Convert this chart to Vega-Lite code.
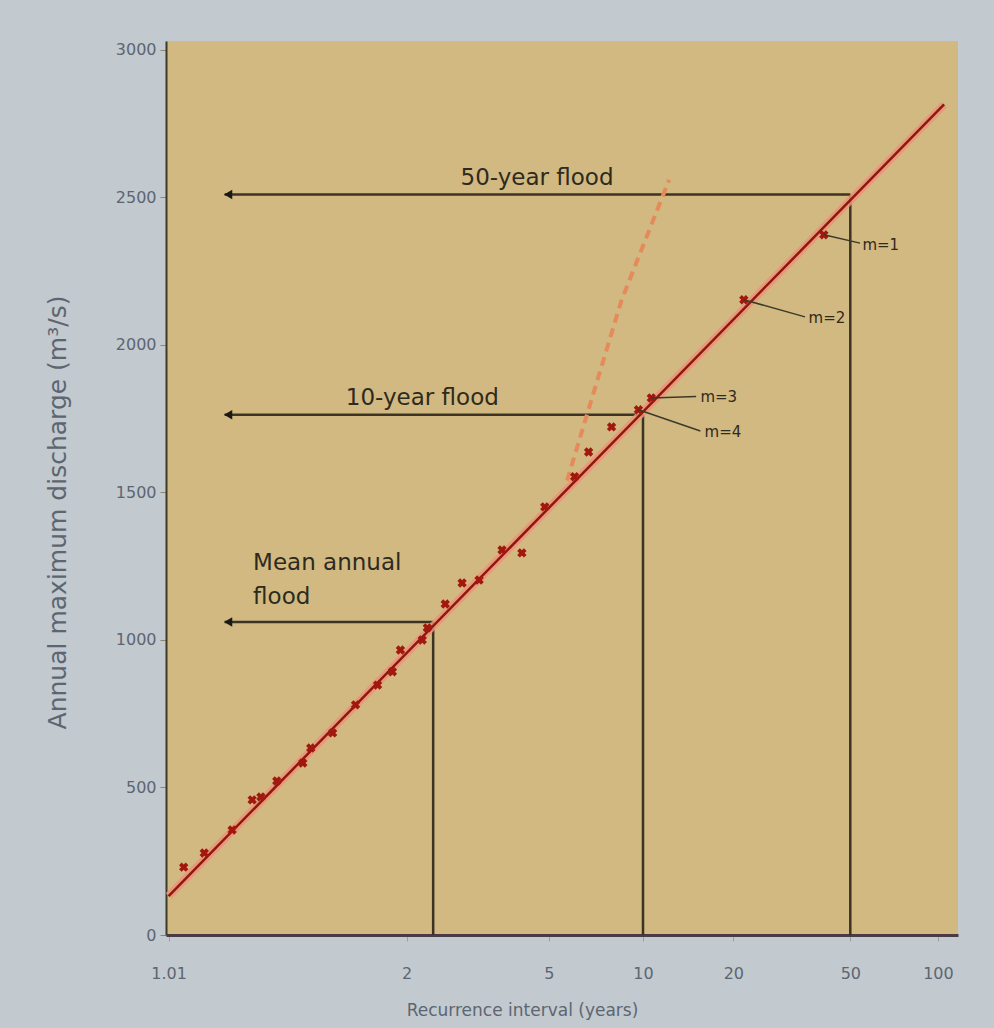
{
  "$schema": "https://vega.github.io/schema/vega-lite/v6.json",
  "width": 792,
  "height": 894,
  "autosize": {"type": "none"},
  "padding": {"left": 166, "top": 41, "right": 36, "bottom": 93},
  "background": "#c2c9cf",
  "config": {
    "view": {"fill": "#d1b981", "stroke": null},
    "font": "DejaVu Sans"
  },
  "datasets": {
    "floods": [
      {"T": 1.017, "Q": 230}, {"T": 1.032, "Q": 278}, {"T": 1.066, "Q": 356},
      {"T": 1.103, "Q": 458}, {"T": 1.123, "Q": 468}, {"T": 1.166, "Q": 522},
      {"T": 1.258, "Q": 583}, {"T": 1.292, "Q": 634}, {"T": 1.402, "Q": 685},
      {"T": 1.546, "Q": 780}, {"T": 1.717, "Q": 847}, {"T": 1.853, "Q": 892},
      {"T": 1.934, "Q": 966}, {"T": 2.186, "Q": 1000}, {"T": 2.251, "Q": 1041},
      {"T": 2.506, "Q": 1122}, {"T": 2.783, "Q": 1193}, {"T": 3.104, "Q": 1203},
      {"T": 3.614, "Q": 1305}, {"T": 4.139, "Q": 1295}, {"T": 4.859, "Q": 1451},
      {"T": 6.02, "Q": 1553}, {"T": 6.667, "Q": 1637}, {"T": 7.9, "Q": 1722},
      {"T": 9.66, "Q": 1780}, {"T": 10.65, "Q": 1820}, {"T": 21.7, "Q": 2153},
      {"T": 40.6, "Q": 2373}
    ],
    "fit": [{"T": 1.01, "Q": 132}, {"T": 105, "Q": 2815}],
    "dashed": [{"T": 5.7, "Q": 1540}, {"T": 8.5, "Q": 2150}, {"T": 12.2, "Q": 2560}],
    "guides": [
      {"T": 1.055, "T2": 50, "Q": 2510, "Q2": 2510},
      {"T": 50, "T2": 50, "Q": 0, "Q2": 2510},
      {"T": 1.055, "T2": 10, "Q": 1763, "Q2": 1763},
      {"T": 10, "T2": 10, "Q": 0, "Q2": 1763},
      {"T": 1.055, "T2": 2.33, "Q": 1061, "Q2": 1061},
      {"T": 2.33, "T2": 2.33, "Q": 0, "Q2": 1061}
    ],
    "arrows": [{"T": 1.06, "Q": 2510}, {"T": 1.06, "Q": 1763}, {"T": 1.06, "Q": 1061}],
    "leaders": [
      {"T": 40.6, "T2": 54, "Q": 2373, "Q2": 2345},
      {"T": 21.7, "T2": 35, "Q": 2153, "Q2": 2095},
      {"T": 10.65, "T2": 15, "Q": 1820, "Q2": 1825},
      {"T": 9.66, "T2": 15.5, "Q": 1780, "Q2": 1708}
    ],
    "labelsCenter": [
      {"label": "50-year flood", "T": 4.6, "Q": 2566},
      {"label": "10-year flood", "T": 2.186, "Q": 1820}
    ],
    "labelsLeft": [
      {"label": "Mean annual", "T": 1.105, "Q": 1261},
      {"label": "flood", "T": 1.105, "Q": 1146}
    ],
    "rankLabels": [
      {"label": "m=1", "T": 55, "Q": 2340},
      {"label": "m=2", "T": 36, "Q": 2090},
      {"label": "m=3", "T": 15.5, "Q": 1825},
      {"label": "m=4", "T": 16, "Q": 1705}
    ]
  },
  "encoding": {
    "x": {
      "field": "g",
      "type": "quantitative",
      "scale": {"domain": [-1.55, 4.76], "nice": false, "zero": false},
      "title": "Recurrence interval (years)",
      "axis": {
        "values": [-1.52936, 0.36651, 1.49994, 2.25037, 2.9702, 3.90194, 4.60015],
        "labelExpr": "datum.value < -1 ? '1.01' : datum.value < 1 ? '2' : datum.value < 2 ? '5' : datum.value < 2.6 ? '10' : datum.value < 3.5 ? '20' : datum.value < 4.2 ? '50' : '100'",
        "labelFontSize": 16,
        "labelColor": "#5d6670",
        "labelPadding": 24,
        "labelFlush": false,
        "tickSize": 6,
        "tickColor": "#9aa0a8",
        "domainColor": "#4a3b46",
        "domainWidth": 3,
        "grid": false,
        "titleFontSize": 17,
        "titleFontWeight": "normal",
        "titleColor": "#5d6670",
        "titleX": 356,
        "titleY": 75,
        "titleBaseline": "middle"
      }
    },
    "y": {
      "field": "Q",
      "type": "quantitative",
      "scale": {"domain": [0, 3030], "nice": false},
      "title": "Annual maximum discharge (m³/s)",
      "axis": {
        "values": [0, 500, 1000, 1500, 2000, 2500, 3000],
        "format": "d",
        "labelFontSize": 16,
        "labelColor": "#5d6670",
        "labelPadding": 4,
        "tickSize": 6,
        "tickColor": "#8a8670",
        "domainColor": "#3e3a2a",
        "domainWidth": 2,
        "grid": false,
        "titleFontSize": 25,
        "titleFontWeight": "normal",
        "titleColor": "#5d6670",
        "titleX": -109,
        "titleY": 471,
        "titleBaseline": "middle"
      }
    }
  },
  "layer": [
    {
      "data": {"name": "guides"},
      "transform": [
        {"calculate": "-log(-log(1 - 1/datum.T))", "as": "g"},
        {"calculate": "-log(-log(1 - 1/datum.T2))", "as": "g2"}
      ],
      "mark": {"type": "rule", "color": "#3b3424", "strokeWidth": 2.5},
      "encoding": {"x2": {"field": "g2"}, "y2": {"field": "Q2"}}
    },
    {
      "data": {"name": "arrows"},
      "transform": [{"calculate": "-log(-log(1 - 1/datum.T))", "as": "g"}],
      "mark": {"type": "point", "shape": "triangle-left", "filled": true, "color": "#1a1a14", "size": 90, "opacity": 1}
    },
    {
      "data": {"name": "dashed"},
      "transform": [{"calculate": "-log(-log(1 - 1/datum.T))", "as": "g"}],
      "mark": {"type": "line", "color": "#e58a5a", "strokeWidth": 4, "strokeDash": [9, 6]}
    },
    {
      "data": {"name": "fit"},
      "transform": [{"calculate": "-log(-log(1 - 1/datum.T))", "as": "g"}],
      "mark": {"type": "line", "color": "#f0907a", "strokeWidth": 8, "opacity": 0.85}
    },
    {
      "data": {"name": "fit"},
      "transform": [{"calculate": "-log(-log(1 - 1/datum.T))", "as": "g"}],
      "mark": {"type": "line", "color": "#8a1a0e", "strokeWidth": 2.5}
    },
    {
      "data": {"name": "floods"},
      "transform": [{"calculate": "-log(-log(1 - 1/datum.T))", "as": "g"}],
      "mark": {"type": "point", "shape": "cross", "angle": 45, "filled": true, "color": "#a3180e", "size": 90, "opacity": 1}
    },
    {
      "data": {"name": "leaders"},
      "transform": [
        {"calculate": "-log(-log(1 - 1/datum.T))", "as": "g"},
        {"calculate": "-log(-log(1 - 1/datum.T2))", "as": "g2"}
      ],
      "mark": {"type": "rule", "color": "#3b3a2a", "strokeWidth": 1.5},
      "encoding": {"x2": {"field": "g2"}, "y2": {"field": "Q2"}}
    },
    {
      "data": {"name": "labelsCenter"},
      "transform": [{"calculate": "-log(-log(1 - 1/datum.T))", "as": "g"}],
      "mark": {"type": "text", "align": "center", "baseline": "middle", "fontSize": 23, "color": "#2e2a1e"},
      "encoding": {"text": {"field": "label"}}
    },
    {
      "data": {"name": "labelsLeft"},
      "transform": [{"calculate": "-log(-log(1 - 1/datum.T))", "as": "g"}],
      "mark": {"type": "text", "align": "left", "baseline": "middle", "fontSize": 23, "color": "#2e2a1e"},
      "encoding": {"text": {"field": "label"}}
    },
    {
      "data": {"name": "rankLabels"},
      "transform": [{"calculate": "-log(-log(1 - 1/datum.T))", "as": "g"}],
      "mark": {"type": "text", "align": "left", "baseline": "middle", "fontSize": 15, "color": "#2e2a1e"},
      "encoding": {"text": {"field": "label"}}
    }
  ]
}
